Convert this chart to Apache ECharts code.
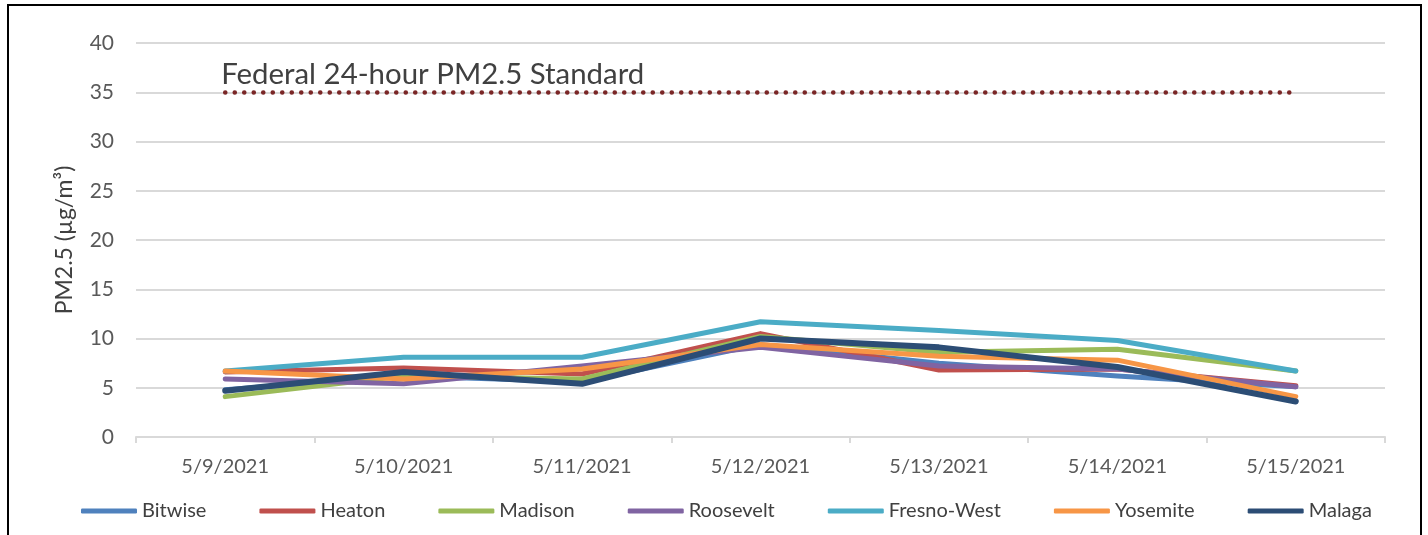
<!DOCTYPE html>
<html style="height: 100%">
<head>
    <meta charset="utf-8">
</head>
<body style="height: 100%; margin: 0; background: #fff">
    <div id="container" style="width: 1428px; height: 535px"></div>
    <script type="text/javascript" src="https://cdn.jsdelivr.net/npm/echarts@6/dist/echarts.min.js"></script>
    <script type="text/javascript">
        // dates on the x axis
        var dates = ['5/9/2021', '5/10/2021', '5/11/2021', '5/12/2021', '5/13/2021', '5/14/2021', '5/15/2021'];

        // daily PM2.5 per site (ug/m3)
        var bitwise    = [4.8, 6.2, 5.6, 9.4, 7.5, 6.2, 5.1];
        var heaton     = [6.6, 7.0, 6.4, 10.5, 6.8, 6.9, 5.2];
        var madison    = [4.1, 6.2, 5.9, 10.2, 8.6, 8.9, 6.7];
        var roosevelt  = [5.9, 5.4, 7.2, 9.1, 7.2, 6.9, 5.1];
        var fresnoWest = [6.7, 8.1, 8.1, 11.7, 10.8, 9.8, 6.7];
        var yosemite   = [6.7, 5.9, 6.9, 9.4, 8.2, 7.8, 4.1];
        var malaga     = [4.7, 6.6, 5.4, 10.0, 9.1, 7.1, 3.6];

        var standardLevel = 35;
        var standardText = 'Federal 24-hour PM2.5 Standard';

        var sites = [
            { name: 'Bitwise', data: bitwise, color: '#4F81BD' },
            { name: 'Heaton', data: heaton, color: '#C0504D' },
            { name: 'Madison', data: madison, color: '#9BBB59' },
            { name: 'Roosevelt', data: roosevelt, color: '#8064A2' },
            { name: 'Fresno-West', data: fresnoWest, color: '#4BACC6' },
            { name: 'Yosemite', data: yosemite, color: '#F79646' },
            { name: 'Malaga', data: malaga, color: '#2C4D75' }
        ];

        var font = 'Lato, "Open Sans", sans-serif';
        var dom = document.getElementById('container');
        var myChart = echarts.init(dom);

        var series = sites.map(function (s) {
            return {
                name: s.name,
                type: 'line',
                data: s.data,
                symbol: 'none',
                color: s.color,
                lineStyle: { width: s.name === 'Malaga' ? 6 : 5, color: s.color, cap: 'round', join: 'round' },
                z: 3
            };
        });

        // the standard line, as a markLine on its own empty series
        series.unshift({
            name: 'Standard',
            type: 'line',
            data: [],
            markLine: {
                silent: true,
                symbol: ['none', 'none'],
                lineStyle: { color: '#7A2626', width: 4.5, type: [0.1, 9.4], cap: 'round' },
                label: {
                    show: true,
                    position: 'insideStartTop',
                    formatter: standardText,
                    color: '#404040',
                    fontFamily: font,
                    fontSize: 29.4,
                    distance: [-4, 3]
                },
                data: [[{ coord: [dates[0], standardLevel] }, { coord: [dates[dates.length - 1], standardLevel] }]]
            },
            z: 2
        });

        var option = {
            animation: false,
            backgroundColor: '#fff',
            grid: { left: 136, right: 43, top: 43, bottom: 98 },
            legend: {
                data: sites.map(function (s) { return s.name; }),
                bottom: 9,
                left: 76,
                icon: 'roundRect',
                itemWidth: 56,
                itemHeight: 5,
                itemGap: 53,
                textStyle: { color: '#404040', fontFamily: font, fontSize: 20 }
            },
            xAxis: {
                type: 'category',
                data: dates,
                axisLine: { lineStyle: { color: '#D9D9D9', width: 2 } },
                axisTick: { show: true, length: 6, lineStyle: { color: '#D9D9D9', width: 2 } },
                axisLabel: { color: '#595959', fontFamily: font, fontSize: 20, margin: 20 }
            },
            yAxis: {
                type: 'value',
                min: 0,
                max: 40,
                interval: 5,
                name: 'PM2.5 (µg/m³)',
                nameLocation: 'middle',
                nameGap: 60,
                nameTextStyle: { color: '#404040', fontFamily: font, fontSize: 23 },
                axisLine: { show: false },
                axisTick: { show: false },
                axisLabel: { color: '#595959', fontFamily: font, fontSize: 21, margin: 22 },
                splitLine: { lineStyle: { color: '#D9D9D9', width: 2 } }
            },
            graphic: [{
                type: 'rect',
                shape: { x: 8, y: 5, width: 1413, height: 545 },
                style: { fill: null, stroke: '#000', lineWidth: 2 },
                silent: true
            }],
            series: series
        };

        myChart.setOption(option, true);
    </script>
</body>
</html>
